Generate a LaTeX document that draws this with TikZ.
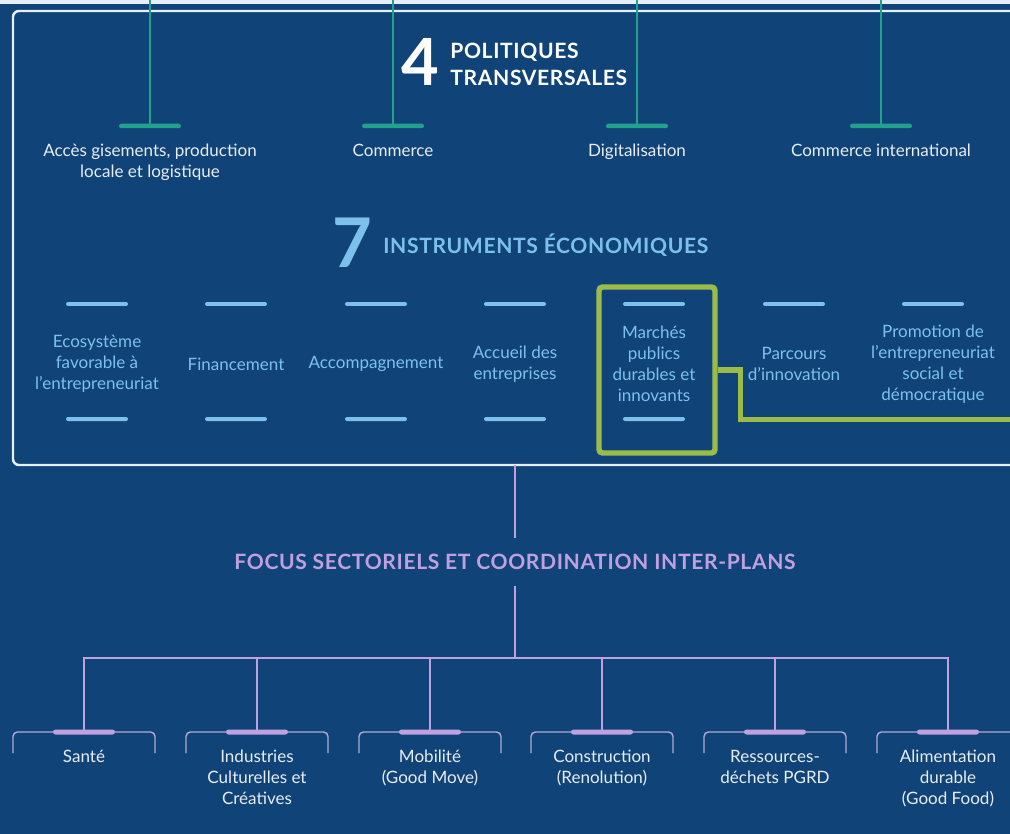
\documentclass[tikz,border=0pt]{standalone}
\usepackage{fontspec}
\setmainfont{Lato}
\newfontfamily\headfont[LetterSpace=3]{Lato}
\usepackage{tikz}
\usetikzlibrary{positioning}

\definecolor{navy}{RGB}{16,68,120}
\definecolor{frameline}{RGB}{230,239,248}
\definecolor{policyteal}{RGB}{32,162,140}
\definecolor{instrblue}{RGB}{124,193,236}
\definecolor{marketgreen}{RGB}{156,188,74}
\definecolor{focuslilac}{RGB}{192,160,222}
\definecolor{bracketlilac}{RGB}{178,170,212}
\definecolor{labelwhite}{RGB}{232,236,244}

\newcommand\labelfont{\fontsize{9.7}{11.9}\selectfont}
\newcommand\titlefont{\headfont\bfseries\fontsize{12}{15.3}\selectfont}

\begin{document}
\begin{tikzpicture}[x=0.02cm, y=-0.02cm,
  tealbar/.style={fill=policyteal, minimum width=1.24cm, minimum height=0.09cm, inner sep=0pt, rounded corners=0.045cm},
  bluebar/.style={fill=instrblue, minimum width=1.24cm, minimum height=0.08cm, inner sep=0pt, rounded corners=0.04cm},
  lilacbar/.style={fill=focuslilac, minimum width=1.24cm, minimum height=0.1cm, inner sep=0pt, rounded corners=0.05cm},
  policytext/.style={font=\labelfont, text=labelwhite, align=center, inner sep=0pt},
  instrtext/.style={font=\labelfont, text=instrblue, align=center, inner sep=0pt},
  sectortext/.style={font=\labelfont, text=labelwhite, align=center, inner sep=0pt},
  tealline/.style={policyteal, line width=1.1pt},
  lilacline/.style={focuslilac, line width=1.1pt},
  bracket/.style={bracketlilac, line width=0.8pt, rounded corners=2.5pt},
  greenline/.style={marketgreen, line width=3.1pt}]

  % Page
  \fill [navy] (0, 0) rectangle (1010, 834);
  \fill [frameline] (0, 0) rectangle (1010, 4);
  \useasboundingbox (0, 0) rectangle (1010, 834);
  \clip (0, 0) rectangle (1010, 834);

  % Frame round policies and instruments
  \draw [frameline, line width=1.4pt, rounded corners=3.4pt] (13, 11) rectangle (1040, 465);

  % Transversal policies
  \node [text=white, font=\bfseries\fontsize{37}{37}\selectfont, inner sep=0pt] (four) at (420, 62) {4};
  \node [text=white, font=\titlefont, align=left, anchor=west, inner sep=0pt] (polhead) at (450, 64) {POLITIQUES\\TRANSVERSALES};

  \coordinate (pol1top) at (150, 0);
  \coordinate (pol2top) at (393, 0);
  \coordinate (pol3top) at (637, 0);
  \coordinate (pol4top) at (881, 0);
  \draw [tealline] (pol1top) -- (150, 126);
  \draw [tealline] (pol2top) -- (393, 126);
  \draw [tealline] (pol3top) -- (637, 126);
  \draw [tealline] (pol4top) -- (881, 126);
  \node [tealbar] (pol1) at (150, 126) {};
  \node [tealbar] (pol2) at (393, 126) {};
  \node [tealbar] (pol3) at (637, 126) {};
  \node [tealbar] (pol4) at (881, 126) {};
  \node [policytext, below=0.3cm of pol1] (access) {Accès gisements, production\\locale et logistique};
  \node [policytext, below=0.3cm of pol2] (commerce) {Commerce};
  \node [policytext, below=0.3cm of pol3] (digital) {Digitalisation};
  \node [policytext, below=0.3cm of pol4] (export) {Commerce international};

  % Economic instruments
  \node [text=instrblue, font=\bfseries\fontsize{39}{39}\selectfont, inner sep=0pt] (seven) at (352, 243) {7};
  \node [text=instrblue, font=\titlefont, anchor=west, inner sep=0pt] (instrhead) at (383, 245) {INSTRUMENTS ÉCONOMIQUES};

  \node [bluebar] (ins1a) at (97, 304) {};
  \node [bluebar] (ins2a) at (236, 304) {};
  \node [bluebar] (ins3a) at (376, 304) {};
  \node [bluebar] (ins4a) at (515, 304) {};
  \node [bluebar] (ins5a) at (654, 304) {};
  \node [bluebar] (ins6a) at (794, 304) {};
  \node [bluebar] (ins7a) at (933, 304) {};
  \node [instrtext] (ecosys) at (97, 364) {Ecosystème\\favorable à\\l’entrepreneuriat};
  \node [instrtext] (finance) at (236, 364) {Financement};
  \node [instrtext] (support) at (376, 364) {Accompagnement};
  \node [instrtext] (welcome) at (515, 364) {Accueil des\\entreprises};
  \node [instrtext] (markets) at (654, 364) {Marchés\\publics\\durables et\\innovants};
  \node [instrtext] (innov) at (794, 364) {Parcours\\d’innovation};
  \node [instrtext] (social) at (933, 364) {Promotion de\\l\symbol{"27}entrepreneuriat\\social et\\démocratique};
  \node [bluebar] (ins1b) at (97, 419) {};
  \node [bluebar] (ins2b) at (236, 419) {};
  \node [bluebar] (ins3b) at (376, 419) {};
  \node [bluebar] (ins4b) at (515, 419) {};
  \node [bluebar] (ins5b) at (654, 419) {};
  \node [bluebar] (ins6b) at (794, 419) {};
  \node [bluebar] (ins7b) at (933, 419) {};

  % Public procurement highlight
  \node [draw=marketgreen, line width=3.1pt, rounded corners=2pt, minimum width=2.32cm, minimum height=3.32cm, inner sep=0pt] (mkbox) at (657, 370) {};
  \coordinate (mkexit) at (1020, 419.5);
  \draw [greenline] (mkbox.east) -- ++(23, 0) |- (mkexit);

  % Sector focus
  \coordinate (framebottom) at (515, 465);
  \coordinate (hub) at (515, 658);
  \node [text=focuslilac, font=\titlefont, inner xsep=0pt, inner ysep=9pt] (focus) at (515, 562) {FOCUS SECTORIELS ET COORDINATION INTER-PLANS};
  \draw [lilacline] (framebottom) -- (focus.north);
  \draw [lilacline] (focus.south) -- (hub);

  \coordinate (sec1) at (84, 732);
  \coordinate (sec2) at (257, 732);
  \coordinate (sec3) at (430, 732);
  \coordinate (sec4) at (602, 732);
  \coordinate (sec5) at (775, 732);
  \coordinate (sec6) at (948, 732);
  \draw [bracket] ([xshift=-1.42cm, yshift=-0.42cm]sec1) -- ([xshift=-1.42cm]sec1) -- ([xshift=1.42cm]sec1) -- ([xshift=1.42cm, yshift=-0.42cm]sec1);
  \draw [bracket] ([xshift=-1.42cm, yshift=-0.42cm]sec2) -- ([xshift=-1.42cm]sec2) -- ([xshift=1.42cm]sec2) -- ([xshift=1.42cm, yshift=-0.42cm]sec2);
  \draw [bracket] ([xshift=-1.42cm, yshift=-0.42cm]sec3) -- ([xshift=-1.42cm]sec3) -- ([xshift=1.42cm]sec3) -- ([xshift=1.42cm, yshift=-0.42cm]sec3);
  \draw [bracket] ([xshift=-1.42cm, yshift=-0.42cm]sec4) -- ([xshift=-1.42cm]sec4) -- ([xshift=1.42cm]sec4) -- ([xshift=1.42cm, yshift=-0.42cm]sec4);
  \draw [bracket] ([xshift=-1.42cm, yshift=-0.42cm]sec5) -- ([xshift=-1.42cm]sec5) -- ([xshift=1.42cm]sec5) -- ([xshift=1.42cm, yshift=-0.42cm]sec5);
  \draw [bracket] ([xshift=-1.42cm, yshift=-0.42cm]sec6) -- ([xshift=-1.42cm]sec6) -- ([xshift=1.42cm]sec6) -- ([xshift=1.42cm, yshift=-0.42cm]sec6);

  \draw [lilacline] (sec1) -- (sec1 |- hub) -- (sec6 |- hub) -- (sec6);
  \draw [lilacline] (hub -| sec2) -- (sec2);
  \draw [lilacline] (hub -| sec3) -- (sec3);
  \draw [lilacline] (hub -| sec4) -- (sec4);
  \draw [lilacline] (hub -| sec5) -- (sec5);

  \node [lilacbar] (sec1bar) at (sec1) {};
  \node [lilacbar] (sec2bar) at (sec2) {};
  \node [lilacbar] (sec3bar) at (sec3) {};
  \node [lilacbar] (sec4bar) at (sec4) {};
  \node [lilacbar] (sec5bar) at (sec5) {};
  \node [lilacbar] (sec6bar) at (sec6) {};
  \node [sectortext, below=0.3cm of sec1bar] (health) {Santé};
  \node [sectortext, below=0.3cm of sec2bar] (culture) {Industries\\Culturelles et\\Créatives};
  \node [sectortext, below=0.3cm of sec3bar] (mobility) {Mobilité\\(Good Move)};
  \node [sectortext, below=0.3cm of sec4bar] (building) {Construction\\(Renolution)};
  \node [sectortext, below=0.3cm of sec5bar] (waste) {Ressources-\\déchets PGRD};
  \node [sectortext, below=0.3cm of sec6bar] (food) {Alimentation\\durable\\(Good Food)};
\end{tikzpicture}
\end{document}
